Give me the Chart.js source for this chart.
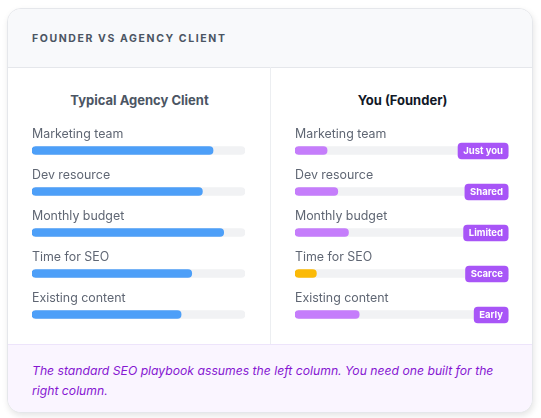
<!DOCTYPE html>
<html>
<head>
<meta charset="utf-8">
<script src="https://cdn.jsdelivr.net/npm/chart.js@4"></script>
<style>
  html, body { margin:0; padding:0; background:#ffffff; width:541px; height:418px; overflow:hidden; font-family: Inter, "Noto Sans", sans-serif; }
  .card { position:absolute; left:7px; top:8px; width:526px; height:405px; border:1px solid #e5e7eb; border-radius:14px; box-sizing:border-box; background:#fff; box-shadow: 1px 3px 6px rgba(0,0,0,0.10); overflow:hidden; }
  .header { position:absolute; left:0; top:0; right:0; height:58px; background:#f8f9fb; border-bottom:1px solid #e5e7eb; }
  .header span { position:absolute; left:24px; top:23px; font-size:10.5px; font-weight:700; letter-spacing:1.6px; color:#4b5563; }
  .divider { position:absolute; left:262px; top:58px; width:1px; height:277px; background:#eceef1; }
  .coltitle { position:absolute; top:83px; font-size:13px; font-weight:700; text-align:center; }
  .footer { position:absolute; left:0; right:0; top:335px; bottom:0; background:#faf5ff; border-top:1px solid #ede4fb; }
  .footer p { margin:0; position:absolute; left:24px; top:16px; width:482px; font-family: Inter, "Noto Sans", sans-serif; font-style:italic; font-size:12.2px; line-height:20px; color:#8617d2; }
  canvas { position:absolute; }
</style>
</head>
<body>
<div class="card">
  <div class="header"><span>FOUNDER VS AGENCY CLIENT</span></div>
  <div class="divider"></div>
  <div class="coltitle" style="left:0; width:263px; color:#4b5563;">Typical Agency Client</div>
  <div class="coltitle" style="left:263px; width:263px; color:#111827;">You (Founder)</div>
  <div class="footer"><p>The standard SEO playbook assumes the left column. You need one built for the right column.</p></div>
</div>
<div style="position:absolute; left:32px; top:120px; width:213px; height:215px;"><canvas id="left"></canvas></div>
<div style="position:absolute; left:295px; top:120px; width:214px; height:215px;"><canvas id="right"></canvas></div>
<script>
const categories = ["Marketing team", "Dev resource", "Monthly budget", "Time for SEO", "Existing content"];
const agencyValues = [85, 80, 90, 75, 70];
const founderValues = [15, 20, 25, 10, 30];
const founderBadges = ["Just you", "Shared", "Limited", "Scarce", "Early"];
const trackValues = [100, 100, 100, 100, 100];

const agencyColors = ["#4d9ff8", "#4d9ff8", "#4d9ff8", "#4d9ff8", "#4d9ff8"];
const founderColors = ["#c57dfb", "#c57dfb", "#c57dfb", "#fbba07", "#c57dfb"];

const rowLabels = {
  id: 'rowLabels',
  afterDatasetsDraw(chart, args, opts) {
    const ctx = chart.ctx;
    const meta = chart.getDatasetMeta(0);
    ctx.save();
    ctx.font = '12.4px Inter, "Noto Sans", sans-serif';
    ctx.fillStyle = '#5f6673';
    ctx.textBaseline = 'middle';
    ctx.textAlign = 'left';
    meta.data.forEach((bar, i) => {
      ctx.fillText(chart.data.labels[i], chart.chartArea.left, bar.y - 16.5);
    });
    const badges = opts.badges;
    if (badges) {
      ctx.font = 'bold 9.5px Inter, "Noto Sans", sans-serif';
      const right = chart.chartArea.right - 0.5;
      meta.data.forEach((bar, i) => {
        const t = badges[i];
        const w = ctx.measureText(t).width + 11;
        const h = 16.5;
        const x = right - w, y = bar.y - h / 2 + 0.5;
        ctx.fillStyle = '#a855f7';
        ctx.beginPath();
        ctx.roundRect(x, y, w, h, 4);
        ctx.fill();
        ctx.fillStyle = '#ffffff';
        ctx.textAlign = 'center';
        ctx.fillText(t, x + w / 2, bar.y + 1);
      });
    }
    ctx.restore();
  }
};

function makeChart(id, values, colors, badges) {
  return new Chart(document.getElementById(id), {
    type: 'bar',
    data: {
      labels: categories,
      datasets: [
        { data: values, backgroundColor: colors, barThickness: 8, borderRadius: 4, borderSkipped: false, grouped: false, order: 0 },
        { data: trackValues, backgroundColor: '#f1f2f4', barThickness: 8, borderRadius: 4, borderSkipped: false, grouped: false, order: 1 }
      ]
    },
    options: {
      indexAxis: 'y',
      responsive: true,
      maintainAspectRatio: false,
      animation: false,
      layout: { padding: { top: 10, bottom: 0, left: 0, right: 0 } },
      scales: {
        x: { display: false, min: 0, max: 100 },
        y: { display: false }
      },
      plugins: { legend: { display: false }, tooltip: { enabled: false }, rowLabels: { badges: badges } }
    },
    plugins: [rowLabels]
  });
}

makeChart('left', agencyValues, agencyColors, null);
makeChart('right', founderValues, founderColors, founderBadges);
</script>
</body>
</html>
